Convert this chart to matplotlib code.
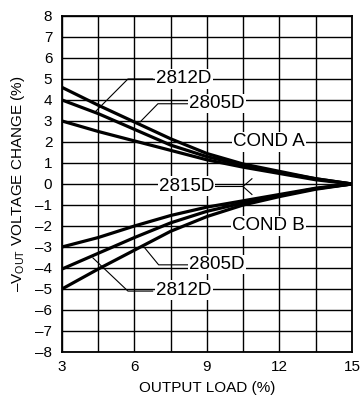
import matplotlib
matplotlib.use("Agg")
import matplotlib.pyplot as plt
from matplotlib.ticker import FuncFormatter

plt.rcParams['font.family'] = ['Liberation Sans', 'DejaVu Sans']
plt.rcParams['mathtext.fontset'] = 'custom'
plt.rcParams['mathtext.rm'] = 'Liberation Sans'

# output load (%) where the curves were read
load = [3, 4.5, 6, 7.5, 9, 10.5, 12, 13.5, 15]

# COND A (positive) curves
a_outer = [4.6, 3.75, 2.95, 2.15, 1.45, 0.95, 0.6, 0.25, 0]
a_mid = [4.0, 3.35, 2.6, 1.85, 1.3, 0.9, 0.55, 0.25, 0]
a_inner = [3.0, 2.5, 2.05, 1.6, 1.15, 0.8, 0.5, 0.2, 0]

# COND B (negative) curves
b_outer = [-5.0, -4.05, -3.15, -2.25, -1.55, -1.0, -0.6, -0.25, 0]
b_mid = [-4.05, -3.3, -2.55, -1.85, -1.3, -0.9, -0.55, -0.22, 0]
b_inner = [-3.0, -2.55, -2.0, -1.5, -1.1, -0.8, -0.5, -0.2, 0]

xticks = [3, 6, 9, 12, 15]
yticks = list(range(-8, 9))

# labels: (text, x, y)
labels = [
    ("2812D", 8.05, 5.0),
    ("2805D", 9.4, 3.82),
    ("COND A", 11.55, 2.0),
    ("2815D", 8.15, -0.1),
    ("COND B", 11.55, -2.0),
    ("2805D", 9.4, -3.82),
    ("2812D", 8.05, -5.05),
]

# leader polylines
leaders = [
    ([4.37, 5.73, 6.75], [3.43, 5.0, 5.0]),
    ([6.23, 6.97, 8.2], [2.95, 3.82, 3.82]),
    ([9.3, 10.49, 10.86], [-0.12, -0.12, 0.25]),
    ([10.49, 10.86], [-0.12, -0.5]),
    ([6.43, 7.0, 8.2], [-3.05, -3.85, -3.85]),
    ([4.28, 5.73, 6.75], [-3.52, -5.1, -5.1]),
]

fig = plt.figure(figsize=(3.61, 3.99), dpi=100)
ax = fig.add_axes([0.1717, 0.1178, 0.8033, 0.8422])

for y in [a_outer, a_mid, a_inner, b_outer, b_mid, b_inner]:
    ax.plot(load, y, color='black', lw=2.3, solid_capstyle='butt', zorder=3)

for xs, ys in leaders:
    ax.plot(xs, ys, color='black', lw=0.8, zorder=4)

for t, x, y in labels:
    ax.text(x, y, t, ha='center', va='center', fontsize=13.5, zorder=5,
            bbox=dict(facecolor='white', edgecolor='none', pad=0.8))

ax.set_xlim(3, 15)
ax.set_ylim(-8, 8)
ax.set_xticks(xticks)
ax.set_yticks(yticks)
ax.set_xticks([x + 1.5 for x in xticks[:-1]], minor=True)
ax.grid(True, which='both', color='black', lw=1.0)
ax.tick_params(which='both', length=0, labelsize=11)
ax.tick_params(axis='y', pad=7)
ax.tick_params(axis='x', pad=6)
ax.yaxis.set_major_formatter(FuncFormatter(lambda v, p: f"{int(v)}".replace("-", "–")))
for s in ax.spines.values():
    s.set_linewidth(1.3)

ax.set_xlabel("OUTPUT LOAD (%)", fontsize=11, labelpad=5)
ax.set_ylabel(r"–V$_{\mathrm{OUT}}$ VOLTAGE CHANGE (%)", fontsize=11, labelpad=6)

fig.savefig("out.png", dpi=100)
